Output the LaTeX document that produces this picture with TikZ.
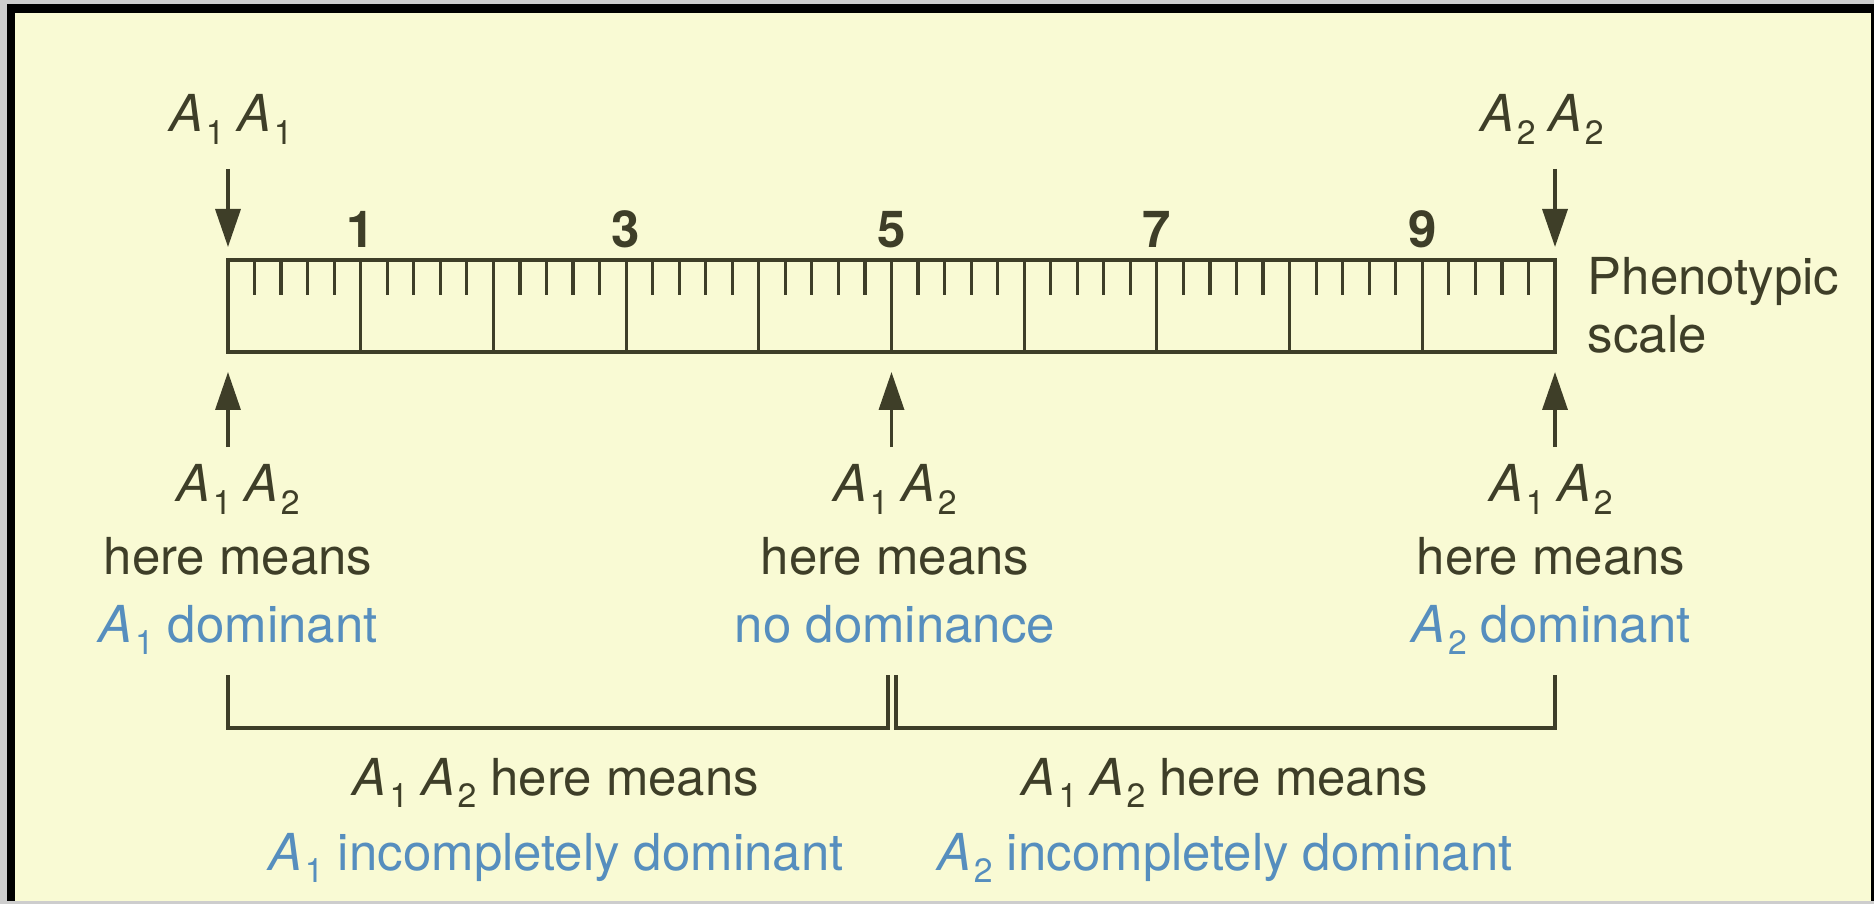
\documentclass[tikz,border=0pt]{standalone}
\usepackage{fontspec}
\setmainfont{TeX Gyre Heros}
\usetikzlibrary{arrows.meta, positioning}
\definecolor{PaperCream}{RGB}{249,250,212}
\definecolor{InkOlive}{RGB}{62,62,40}
\definecolor{TextBlue}{RGB}{86,142,190}
\definecolor{EdgeGrey}{RGB}{205,205,205}
\newcommand{\allele}[1]{\textit{A}\hspace{0.05em}\raisebox{-0.24em}{\fontsize{9.6}{9.6}\selectfont #1}}

\begin{document}
\begin{tikzpicture}[>=Stealth, font=\fontsize{14.5}{17}\selectfont]
  \tikzstyle{txt} = [text=InkOlive, inner sep=0pt]
  \tikzstyle{bluetxt} = [text=TextBlue, inner sep=0pt]
  \tikzstyle{numlbl} = [text=InkOlive, inner sep=0pt, font=\fontsize{14.5}{17}\selectfont\bfseries]
  \tikzstyle{scalebox} = [draw=InkOlive, line width=1pt, minimum width=13.27cm, minimum height=0.92cm, inner sep=0pt, outer sep=0pt]
  \tikzstyle{tick} = [draw=InkOlive, line width=0.9pt]
  \tikzstyle{pointer} = [-{Triangle[length=0.38cm,width=0.25cm]}, draw=InkOlive, line width=1pt]
  \tikzstyle{brace} = [draw=InkOlive, line width=0.9pt]

  % Frame
  \useasboundingbox (-2.28,-5.52) rectangle (16.46,3.52);
  \fill[EdgeGrey] (-2.28,-5.52) rectangle (16.46,3.52);
  \fill[black] (-2.21,-5.49) rectangle (16.46,3.48);
  \fill[PaperCream] (-2.13,-5.49) rectangle (16.43,3.39);

  % Scale
  \node (ruler) [scalebox, anchor=south west] at (0,0) {};
  \foreach \k in {1,...,9}
    \draw[tick] ([xshift=\k*1.327cm]ruler.south west) -- ([xshift=\k*1.327cm]ruler.north west);
  \foreach \k in {0,...,9}
    \foreach \m in {1,...,4}
      \draw[tick] ([xshift=\k*1.327cm+\m*0.2654cm]ruler.north west) -- ++(0,-0.35);
  \foreach \n in {1,3,5,7,9}
    \node (num\n) [numlbl, anchor=base] at ([xshift=\n*1.327cm, yshift=0.12cm]ruler.north west) {\n};
  \node (pheno) [txt, anchor=base west] at (13.59,0.57) {Phenotypic};
  \node (phenoscale) [txt, below=0.58cm of pheno.base west, anchor=base west] {scale};

  % Homozygotes
  \node (homA) [txt, anchor=base] at (0.03,2.20) {\allele{1}\hspace{0.25em}\allele{1}};
  \node (homB) [txt, anchor=base] at (13.14,2.20) {\allele{2}\hspace{0.25em}\allele{2}};

  % Heterozygotes
  \node (hetA) [txt, anchor=base] at (0.10,-1.50) {\allele{1}\hspace{0.25em}\allele{2}};
  \node (meansA) [txt, below=0.73cm of hetA.base, anchor=base] {here means};
  \node (domA) [bluetxt, below=0.67cm of meansA.base, anchor=base] {\allele{1} dominant};

  \node (hetB) [txt, anchor=base] at (6.67,-1.50) {\allele{1}\hspace{0.25em}\allele{2}};
  \node (meansB) [txt, below=0.73cm of hetB.base, anchor=base] {here means};
  \node (domB) [bluetxt, below=0.67cm of meansB.base, anchor=base] {no dominance};

  \node (hetC) [txt, anchor=base] at (13.23,-1.50) {\allele{1}\hspace{0.25em}\allele{2}};
  \node (meansC) [txt, below=0.73cm of hetC.base, anchor=base] {here means};
  \node (domC) [bluetxt, below=0.67cm of meansC.base, anchor=base] {\allele{2} dominant};

  % Arrows
  \draw[pointer, shorten <=0.24cm, shorten >=0.13cm] (homA.south -| ruler.north west) -- (ruler.north west);
  \draw[pointer, shorten <=0.24cm, shorten >=0.13cm] (homB.south -| ruler.north east) -- (ruler.north east);
  \draw[pointer, shorten <=0.17cm, shorten >=0.20cm] (hetA.north -| ruler.south west) -- (ruler.south west);
  \draw[pointer, shorten <=0.17cm, shorten >=0.20cm] (hetB.north -| ruler.south) -- (ruler.south);
  \draw[pointer, shorten <=0.17cm, shorten >=0.20cm] (hetC.north -| ruler.south east) -- (ruler.south east);

  % Ranges
  \draw[brace] (0,-3.23) |- (6.60,-3.76) -- (6.60,-3.23);
  \draw[brace] (6.68,-3.23) |- (13.27,-3.76) -- (13.27,-3.23);
  \node (incA) [txt, anchor=base] at (3.28,-4.43) {\allele{1}\hspace{0.25em}\allele{2} here means};
  \node (incAtxt) [bluetxt, below=0.75cm of incA.base, anchor=base] {\allele{1} incompletely dominant};
  \node (incB) [txt, anchor=base] at (9.97,-4.43) {\allele{1}\hspace{0.25em}\allele{2} here means};
  \node (incBtxt) [bluetxt, below=0.75cm of incB.base, anchor=base] {\allele{2} incompletely dominant};
\end{tikzpicture}
\end{document}
